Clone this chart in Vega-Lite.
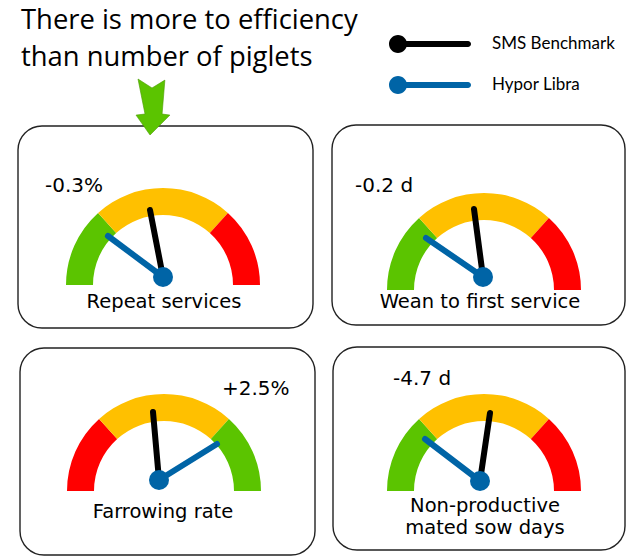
{
  "$schema": "https://vega.github.io/schema/vega-lite/v6.json",
  "width": 638,
  "height": 560,
  "autosize": {"type": "fit", "contains": "padding"},
  "padding": 0,
  "background": "white",
  "config": {"view": {"stroke": null}},
  "datasets": {
    "boxes": [
      {"panel": "Repeat services", "x1": 18, "y1": 126, "x2": 313, "y2": 328},
      {"panel": "Wean to first service", "x1": 332, "y1": 125, "x2": 625, "y2": 325},
      {"panel": "Farrowing rate", "x1": 20, "y1": 348, "x2": 315, "y2": 555},
      {"panel": "Non-productive mated sow days", "x1": 333, "y1": 347, "x2": 625, "y2": 550}
    ],
    "zones": [
      {"panel": "Repeat services", "cx": 163, "cy": 285, "zone": "good", "t1": -1.5708, "t2": -0.733},
      {"panel": "Repeat services", "cx": 163, "cy": 285, "zone": "mid", "t1": -0.733, "t2": 0.733},
      {"panel": "Repeat services", "cx": 163, "cy": 285, "zone": "bad", "t1": 0.733, "t2": 1.5708},
      {"panel": "Wean to first service", "cx": 484, "cy": 290, "zone": "good", "t1": -1.5708, "t2": -0.733},
      {"panel": "Wean to first service", "cx": 484, "cy": 290, "zone": "mid", "t1": -0.733, "t2": 0.733},
      {"panel": "Wean to first service", "cx": 484, "cy": 290, "zone": "bad", "t1": 0.733, "t2": 1.5708},
      {"panel": "Farrowing rate", "cx": 164, "cy": 491, "zone": "bad", "t1": -1.5708, "t2": -0.733},
      {"panel": "Farrowing rate", "cx": 164, "cy": 491, "zone": "mid", "t1": -0.733, "t2": 0.733},
      {"panel": "Farrowing rate", "cx": 164, "cy": 491, "zone": "good", "t1": 0.733, "t2": 1.5708},
      {"panel": "Non-productive mated sow days", "cx": 484, "cy": 491, "zone": "good", "t1": -1.5708, "t2": -0.733},
      {"panel": "Non-productive mated sow days", "cx": 484, "cy": 491, "zone": "mid", "t1": -0.733, "t2": 0.733},
      {"panel": "Non-productive mated sow days", "cx": 484, "cy": 491, "zone": "bad", "t1": 0.733, "t2": 1.5708}
    ],
    "needles": [
      {"panel": "Repeat services", "series": "SMS Benchmark", "hx": 163, "hy": 277, "tx": 150, "ty": 210},
      {"panel": "Wean to first service", "series": "SMS Benchmark", "hx": 483, "hy": 277, "tx": 474, "ty": 209},
      {"panel": "Farrowing rate", "series": "SMS Benchmark", "hx": 159, "hy": 480, "tx": 153, "ty": 412},
      {"panel": "Non-productive mated sow days", "series": "SMS Benchmark", "hx": 480, "hy": 481, "tx": 490, "ty": 413},
      {"panel": "Repeat services", "series": "Hypor Libra", "hx": 163, "hy": 277, "tx": 108, "ty": 236},
      {"panel": "Wean to first service", "series": "Hypor Libra", "hx": 483, "hy": 277, "tx": 426, "ty": 238},
      {"panel": "Farrowing rate", "series": "Hypor Libra", "hx": 159, "hy": 480, "tx": 217, "ty": 444},
      {"panel": "Non-productive mated sow days", "series": "Hypor Libra", "hx": 480, "hy": 481, "tx": 425, "ty": 439}
    ],
    "labels": [
      {"panel": "Repeat services", "text": "Repeat services", "x": 164, "y": 308},
      {"panel": "Wean to first service", "text": "Wean to first service", "x": 480, "y": 308},
      {"panel": "Farrowing rate", "text": "Farrowing rate", "x": 163, "y": 518},
      {"panel": "Non-productive mated sow days", "text": "Non-productive\nmated sow days", "x": 485, "y": 512}
    ],
    "deltas": [
      {"panel": "Repeat services", "text": "-0.3%", "x": 45, "y": 192},
      {"panel": "Wean to first service", "text": "-0.2 d", "x": 355, "y": 192},
      {"panel": "Farrowing rate", "text": "+2.5%", "x": 222, "y": 395},
      {"panel": "Non-productive mated sow days", "text": "-4.7 d", "x": 393, "y": 385}
    ],
    "title": [
      {"text": "There is more to efficiency\nthan number of piglets", "x": 21, "y": 29}
    ],
    "arrow": [
      {"x": 152, "y": 107}
    ]
  },
  "layer": [
    {
      "data": {"name": "boxes"},
      "mark": {"type": "rect", "fillOpacity": 0, "stroke": "#222222", "strokeWidth": 1.4, "cornerRadius": 24},
      "encoding": {
        "x": {"field": "x1", "type": "quantitative", "scale": {"domain": [0, 638], "nice": false, "zero": false}, "axis": null},
        "x2": {"field": "x2"},
        "y": {"field": "y1", "type": "quantitative", "scale": {"domain": [0, 560], "reverse": true, "nice": false, "zero": false}, "axis": null},
        "y2": {"field": "y2"}
      }
    },
    {
      "data": {"name": "zones"},
      "mark": {"type": "arc", "innerRadius": 70, "outerRadius": 97},
      "encoding": {
        "x": {"field": "cx", "type": "quantitative"},
        "y": {"field": "cy", "type": "quantitative"},
        "theta": {"field": "t1", "type": "quantitative", "scale": null, "stack": null},
        "theta2": {"field": "t2"},
        "fill": {"field": "zone", "type": "nominal", "scale": {"domain": ["good", "mid", "bad"], "range": ["#5BC400", "#FFC000", "#FF0000"]}, "legend": null}
      }
    },
    {
      "data": {"name": "needles"},
      "mark": {"type": "rule", "strokeWidth": 6, "strokeCap": "round"},
      "encoding": {
        "x": {"field": "hx", "type": "quantitative"},
        "y": {"field": "hy", "type": "quantitative"},
        "x2": {"field": "tx"},
        "y2": {"field": "ty"},
        "stroke": {
          "field": "series", "type": "nominal",
          "scale": {"domain": ["SMS Benchmark", "Hypor Libra"], "range": ["#000000", "#0064A6"]},
          "legend": {
            "orient": "none", "legendX": 423, "legendY": 34, "title": null,
            "symbolType": "M -4.4 0 A 0.9 0.9 0 1 1 -2.6 0 A 0.9 0.9 0 1 1 -4.4 0 Z M -2.7 -0.3 L 3.5 -0.3 A 0.3 0.3 0 0 1 3.5 0.3 L -2.7 0.3 Z",
            "symbolSize": 400, "symbolStrokeWidth": 0,
            "labelFont": "Lato", "labelFontSize": 17, "labelColor": "#000000",
            "labelOffset": 49, "rowPadding": 21, "padding": 0,
            "encode": {"symbols": {"update": {"fill": {"scale": "stroke", "field": "value"}, "fillOpacity": {"value": 1}}}}
          }
        }
      }
    },
    {
      "data": {"name": "needles"},
      "transform": [{"filter": "datum.series == 'Hypor Libra'"}],
      "mark": {"type": "point", "filled": true, "fill": "#0064A6", "opacity": 1, "size": 400, "strokeWidth": 0},
      "encoding": {
        "x": {"field": "hx", "type": "quantitative"},
        "y": {"field": "hy", "type": "quantitative"}
      }
    },
    {
      "data": {"name": "labels"},
      "mark": {"type": "text", "font": "DejaVu Sans", "fontSize": 19.5, "align": "center", "baseline": "alphabetic", "lineBreak": "\n", "lineHeight": 22, "color": "#000000"},
      "encoding": {
        "x": {"field": "x", "type": "quantitative"},
        "y": {"field": "y", "type": "quantitative"},
        "text": {"field": "text"}
      }
    },
    {
      "data": {"name": "deltas"},
      "mark": {"type": "text", "font": "DejaVu Sans", "fontSize": 20, "align": "left", "baseline": "alphabetic", "color": "#000000"},
      "encoding": {
        "x": {"field": "x", "type": "quantitative"},
        "y": {"field": "y", "type": "quantitative"},
        "text": {"field": "text"}
      }
    },
    {
      "data": {"name": "title"},
      "mark": {"type": "text", "font": "Open Sans", "fontSize": 27.4, "align": "left", "baseline": "alphabetic", "lineBreak": "\n", "lineHeight": 37, "color": "#000000"},
      "encoding": {
        "x": {"field": "x", "type": "quantitative"},
        "y": {"field": "y", "type": "quantitative"},
        "text": {"field": "text"}
      }
    },
    {
      "data": {"name": "arrow"},
      "mark": {
        "type": "point", "filled": true, "opacity": 1, "size": 3136,
        "shape": "M -0.5 -1 L 0 -0.68 L 0.46 -0.96 L 0.36 0.25 L 0.64 0.29 L -0.07 1 L -0.57 0.29 L -0.25 0.25 Z",
        "fill": "#5BC400", "stroke": "#4A9A00", "strokeWidth": 0.6
      },
      "encoding": {
        "x": {"field": "x", "type": "quantitative"},
        "y": {"field": "y", "type": "quantitative"}
      }
    }
  ]
}
